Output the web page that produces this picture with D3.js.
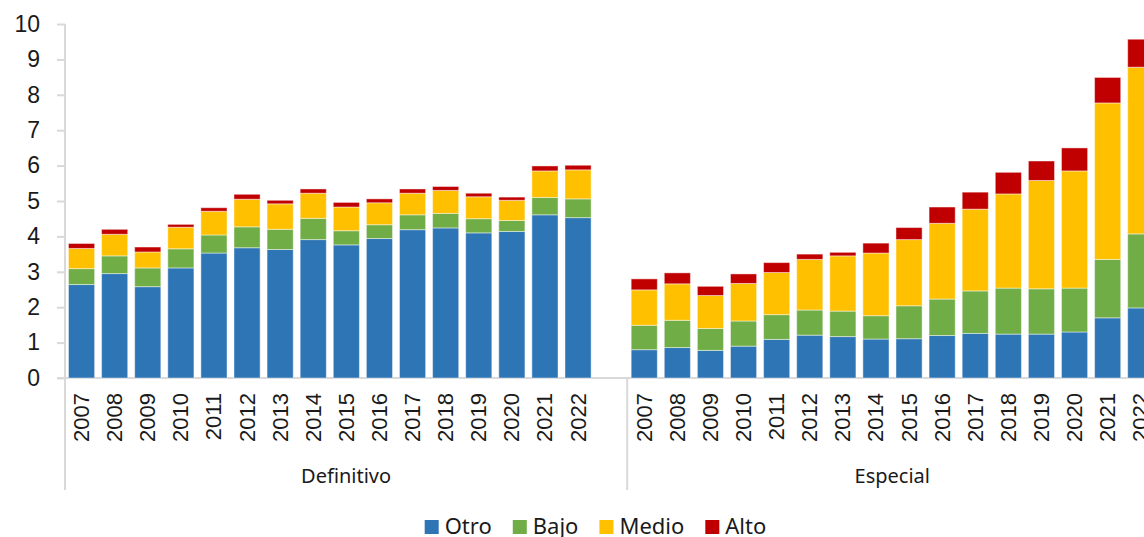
<!DOCTYPE html>
<html>
<head>
<meta charset="utf-8">
<script src="https://cdn.jsdelivr.net/npm/d3@7"></script>
<style>
  body { margin: 0; background: #fff; }
  svg { display: block; }
</style>
</head>
<body>
<script>
// data
var years = ["2007","2008","2009","2010","2011","2012","2013","2014","2015","2016","2017","2018","2019","2020","2021","2022"]
var groups = ["Definitivo", "Especial"]
var seriesNames = ["Otro", "Bajo", "Medio", "Alto"]
var colors = ["#2E75B6", "#70AD47", "#FFC000", "#C00000"]
var yTicks = [0,1,2,3,4,5,6,7,8,9,10]

var otroDef  = [2.64,2.95,2.58,3.11,3.53,3.68,3.63,3.91,3.76,3.94,4.19,4.24,4.10,4.14,4.61,4.53]
var bajoDef  = [0.45,0.50,0.53,0.54,0.51,0.59,0.57,0.60,0.40,0.39,0.42,0.41,0.40,0.31,0.49,0.53]
var medioDef = [0.57,0.61,0.45,0.61,0.67,0.78,0.72,0.71,0.67,0.62,0.61,0.65,0.62,0.57,0.75,0.82]
var altoDef  = [0.14,0.14,0.14,0.08,0.10,0.14,0.10,0.12,0.13,0.11,0.12,0.11,0.10,0.09,0.14,0.13]

var otroEsp  = [0.80,0.86,0.78,0.90,1.09,1.21,1.17,1.10,1.11,1.20,1.26,1.24,1.24,1.30,1.70,1.98]
var bajoEsp  = [0.69,0.77,0.62,0.71,0.70,0.71,0.72,0.66,0.93,1.03,1.20,1.30,1.28,1.24,1.65,2.09]
var medioEsp = [1.00,1.03,0.93,1.06,1.19,1.43,1.56,1.77,1.87,2.14,2.31,2.66,3.06,3.31,4.42,4.71]
var altoEsp  = [0.31,0.31,0.26,0.27,0.28,0.15,0.10,0.28,0.34,0.46,0.48,0.61,0.55,0.65,0.72,0.79]

// build rows: 16 Definitivo, one blank slot, 16 Especial
var rows = []
years.forEach(function(y, i){
  rows.push({key: "D" + y, year: y, group: 0, Otro: otroDef[i], Bajo: bajoDef[i], Medio: medioDef[i], Alto: altoDef[i]})
})
rows.push({key: "blank", year: "", group: 0, Otro: 0, Bajo: 0, Medio: 0, Alto: 0})
years.forEach(function(y, i){
  rows.push({key: "E" + y, year: y, group: 1, Otro: otroEsp[i], Bajo: bajoEsp[i], Medio: medioEsp[i], Alto: altoEsp[i]})
})

var W = 1144, H = 537
var mLeft = 65, mBottom = 378, mTop = 24
var step = 33.1

var svg = d3.select("body").append("svg").attr("width", W).attr("height", H)

var x = d3.scaleBand()
  .domain(rows.map(function(d){ return d.key }))
  .range([mLeft, mLeft + rows.length * step])
  .paddingInner(0.21)
  .paddingOuter(0.105)

var y = d3.scaleLinear().domain([0, 10]).range([mBottom, mTop])

var stack = d3.stack().keys(seriesNames)(rows)

// y axis
var yAxis = svg.append("g")
  .attr("transform", "translate(" + mLeft + ",0)")
  .call(d3.axisLeft(y).tickValues(yTicks).tickSize(8).tickPadding(17))
yAxis.select(".domain").attr("stroke", "#D9D9D9").attr("stroke-width", 2)
  .attr("d", "M0," + y(10) + "V" + y(0))
yAxis.selectAll(".tick line").attr("stroke", "#D9D9D9").attr("stroke-width", 2)
yAxis.selectAll(".tick text")
  .attr("fill", "#1a1a1a")
  .style("font-family", "Liberation Sans, Arial, sans-serif")
  .style("font-size", "23px")

// x axis line
svg.append("line")
  .attr("x1", mLeft - 8).attr("x2", W)
  .attr("y1", mBottom).attr("y2", mBottom)
  .attr("stroke", "#D9D9D9").attr("stroke-width", 2)

// group separators
var sepX = [mLeft, x("E2007") - x.step() * x.paddingInner() / 2 - 0.5]
svg.selectAll(".sep")
  .data(sepX)
  .enter()
  .append("line")
  .attr("x1", function(d){ return d }).attr("x2", function(d){ return d })
  .attr("y1", mBottom).attr("y2", 490)
  .attr("stroke", "#D9D9D9").attr("stroke-width", 2)

// bars
svg.append("g")
  .selectAll("g")
  .data(stack)
  .enter()
  .append("g")
  .attr("fill", function(d, i){ return colors[i] })
  .selectAll("rect")
  .data(function(d){ return d.filter(function(p){ return p.data.key != "blank" }) })
  .enter()
  .append("rect")
  .attr("x", function(d){ return x(d.data.key) })
  .attr("y", function(d){ return y(d[1]) })
  .attr("height", function(d){ return y(d[0]) - y(d[1]) })
  .attr("width", x.bandwidth())
  .attr("stroke", "#ffffff")
  .attr("stroke-opacity", 0.45)
  .attr("stroke-width", 1)

// year labels
svg.append("g")
  .selectAll("text")
  .data(rows.filter(function(d){ return d.year != "" }))
  .enter()
  .append("text")
  .attr("transform", function(d){
    return "translate(" + (x(d.key) + x.bandwidth() / 2 + 7.5) + ",393) rotate(-90)"
  })
  .attr("text-anchor", "end")
  .style("font-family", "Liberation Sans, Arial, sans-serif")
  .style("font-size", "22px")
  .attr("fill", "#1a1a1a")
  .text(function(d){ return d.year })

// group labels
var groupEnds = [[mLeft, sepX[1]], [sepX[1], mLeft + rows.length * step]]
svg.selectAll(".glabel")
  .data(groups)
  .enter()
  .append("text")
  .attr("x", function(d, i){ return (groupEnds[i][0] + groupEnds[i][1]) / 2 })
  .attr("y", 483)
  .attr("text-anchor", "middle")
  .style("font-family", "Noto Sans, sans-serif")
  .style("font-size", "20px")
  .attr("fill", "#1a1a1a")
  .text(function(d){ return d })

// legend
var legend = svg.append("g")
var items = legend.selectAll("g")
  .data(seriesNames)
  .enter()
  .append("g")
items.append("rect")
  .attr("width", 14).attr("height", 14)
  .attr("y", -14)
  .attr("fill", function(d, i){ return colors[i] })
items.append("text")
  .attr("x", 20)
  .attr("y", 0)
  .style("font-family", "Noto Sans, sans-serif")
  .style("font-size", "22px")
  .attr("fill", "#1a1a1a")
  .text(function(d){ return d })

var pos = 0
items.each(function(){
  var w = this.getBBox().width
  d3.select(this).attr("data-x", pos)
  pos += w + 21
})
var totalW = pos - 21
var startX = 595.5 - totalW / 2
items.attr("transform", function(){
  return "translate(" + (startX + (+d3.select(this).attr("data-x"))) + ",534)"
})
</script>
</body>
</html>
